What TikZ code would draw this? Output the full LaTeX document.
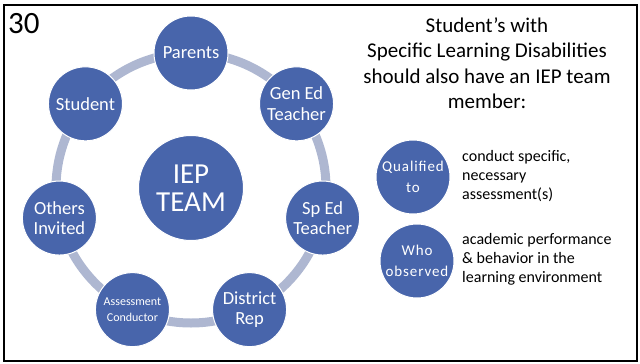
\documentclass[tikz,border=0pt]{standalone}
\usepackage{fontspec}
\setmainfont{Carlito}
\newfontfamily\spaced[LetterSpace=6]{Carlito}
\usepackage{tikz}
\usetikzlibrary{positioning,calc}
\definecolor{teamblue}{RGB}{72,101,171}
\definecolor{ringgray}{RGB}{174,183,209}

\begin{document}
\begin{tikzpicture}[x=1pt,y=-1pt]
	\tikzset{member/.style={circle,fill=teamblue,draw=white,line width=1pt,minimum size=74pt,inner sep=0pt,align=center,text=white}}
	\tikzset{ring/.style={draw=ringgray,line width=9pt}}
	\tikzset{note/.style={anchor=west,align=left,inner sep=0pt,font=\fontsize{16}{19}\selectfont}}
	\useasboundingbox (0,0) rectangle (640,364);
	\draw[line width=2pt] (4,5) rectangle (637,361);
	\node[anchor=base west,inner sep=0pt,font=\fontsize{31}{31}\selectfont] (num) at (8,34) {30};
	% the team wheel
	\node[member,minimum size=105pt,font=\fontsize{29}{28}\selectfont] (team) at (191,188) {IEP\\TEAM};
	\draw[ring] (team) circle (135pt);
	\foreach \name/\txt/\fsz/\lsk [count=\i] in {par/Parents/18.5/20.5, gen/{Gen Ed\\Teacher}/18.5/20.5, sped/{Sp Ed\\Teacher}/18.5/20.5, rep/{District\\Rep}/18.5/20.5, cond/{Assessment\\Conductor}/12/15.5, oth/{Others\\Invited}/18.5/20.5, stu/Student/18.5/20.5}
		\node[member,font=\fontsize{\fsz}{\lsk}\selectfont] (\name) at ($(team)+({-90+(\i-1)*360/7}:135)$) {\txt};
	% extra SLD members
	\node[align=center,anchor=north,inner sep=0pt,font=\fontsize{21}{25.5}\selectfont] (title) at (487,17) {Student’s with\\Specific Learning Disabilities\\should also have an IEP team\\member:};
	\node[member,font=\spaced\fontsize{15}{21}\selectfont] (qual) at (413,177) {Qualified\\to};
	\node[member,font=\spaced\fontsize{15}{21}\selectfont] (who) at (417,261) {Who\\observed};
	\node[note] (qualtxt) at (462,176) {conduct specific,\\necessary\\assessment(s)};
	\node[note] (whotxt) at (462,259) {academic performance\\\& behavior in the\\learning environment};
\end{tikzpicture}
\end{document}
